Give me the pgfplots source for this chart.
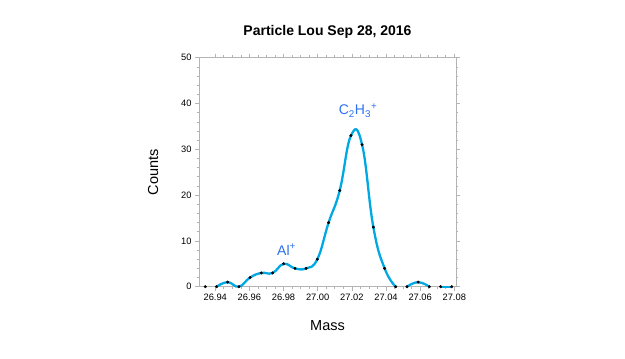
\documentclass[border=0pt]{standalone}
\usepackage{pgfplots}
\pgfplotsset{compat=1.18}
\usepackage{fontspec}
\setmainfont{Liberation Sans}
\definecolor{curvec}{RGB}{0,168,228}
\definecolor{annc}{RGB}{45,112,240}
\definecolor{axgray}{RGB}{180,180,180}
\begin{document}
\begin{tikzpicture}
\path[use as bounding box] (-199pt,-72.3pt) rectangle (426pt,286.7pt);
\begin{axis}[
  at={(0pt,0pt)}, anchor=south west,
  scale only axis, width=257pt, height=229pt,
  xmin=26.9305, xmax=27.081, ymin=0, ymax=50,
  clip=false,
  axis line style={axgray, line width=0.6pt},
  tick style={axgray, line width=0.6pt},
  tick align=outside,
  major tick length=4pt, minor tick length=2.5pt,
  xtick={26.94,26.96,26.98,27.00,27.02,27.04,27.06,27.08},
  xticklabels={26.94,26.96,26.98,27.00,27.02,27.04,27.06,27.08},
  minor x tick num=3,
  ytick={0,10,20,30,40,50}, minor y tick num=4,
  xtick pos=both, ytick pos=both,
  xticklabel pos=lower, yticklabel pos=left,
  ticklabel style={font=\fontsize{9.3}{10}\selectfont, text=black},
  /pgf/number format/assume math mode=true,
  title={Particle Lou Sep 28, 2016},
  title style={font=\fontsize{14}{16}\selectfont\bfseries, at={(axis description cs:0.5,1.0686)}, anchor=base},
  xlabel={Mass},
  xlabel style={font=\fontsize{14.5}{16}\selectfont, at={(axis description cs:0.5,-0.1934)}, anchor=base},
  ylabel={Counts},
  ylabel style={font=\fontsize{14.5}{16}\selectfont, at={(axis description cs:-0.1595,0.5)}, anchor=base},
]
\addplot[smooth, tension=0.75, curvec, line width=2.3pt, no marks] coordinates {
(26.9408,0) (26.9473,1) (26.9539,0) (26.9604,2) (26.9670,3) (26.9736,3)
(26.9801,5) (26.9867,4) (26.9932,4) (26.9998,6) (27.0064,14) (27.0129,21)
(27.0195,33) (27.0260,31) (27.0326,13) (27.0392,4) (27.0457,0)
};
\addplot[smooth, tension=0.75, curvec, line width=2.3pt, no marks] coordinates {
(27.0523,0) (27.0588,1) (27.0654,0)
};
\addplot[curvec, line width=2.3pt, no marks] coordinates {
(27.0720,0) (27.0785,0)
};
\addplot[only marks, mark=*, mark size=1.3pt, black] coordinates {
(26.9342,0) (26.9408,0) (26.9473,1) (26.9539,0) (26.9604,2) (26.9670,3) (26.9736,3)
(26.9801,5) (26.9867,4) (26.9932,4) (26.9998,6) (27.0064,14) (27.0129,21)
(27.0195,33) (27.0260,31) (27.0326,13) (27.0392,4) (27.0457,0)
(27.0523,0) (27.0588,1) (27.0654,0) (27.0720,0) (27.0785,0)
};
\node[anchor=base west, inner sep=0pt, text=annc, font=\fontsize{14}{16}\selectfont] at (axis cs:26.9762,6.9) {Al\textsuperscript{+}};
\node[anchor=base west, inner sep=0pt, text=annc, font=\fontsize{14}{16}\selectfont] at (axis cs:27.0123,37.5) {C\textsubscript{2}H\textsubscript{3}\textsuperscript{+}};
\end{axis}
\end{tikzpicture}
\end{document}
